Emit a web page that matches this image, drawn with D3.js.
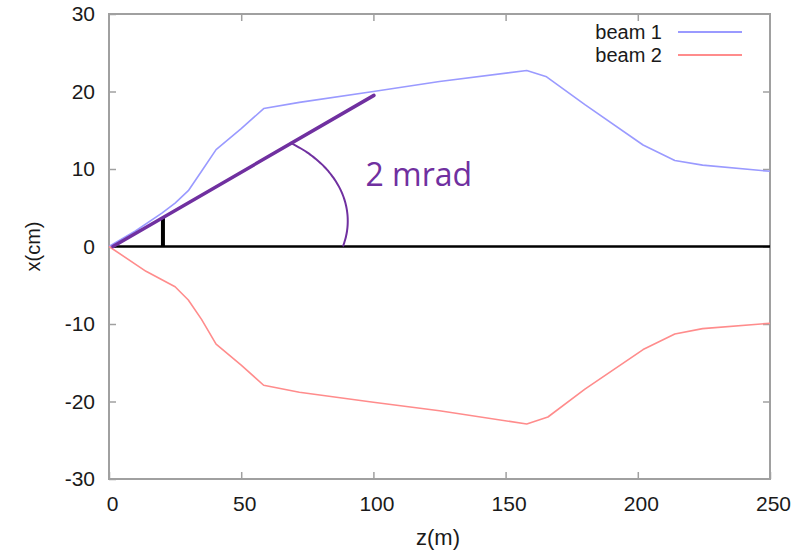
<!DOCTYPE html>
<html>
<head>
<meta charset="utf-8">
<script src="https://cdn.jsdelivr.net/npm/d3@7/dist/d3.min.js"></script>
<style>
  html, body { margin: 0; padding: 0; background: #fff; }
  svg { display: block; }
</style>
</head>
<body>
<svg id="chart" width="807" height="552"></svg>
<script>
// Beam trajectories: longitudinal position z (m) vs transverse offset x (cm)
const beam1Z = [0, 10, 20, 25, 30, 35, 40.5, 50, 58.5, 72, 100, 125, 158, 165.5, 180, 202, 214, 224.5, 250];
const beam1X = [0, 2.0, 4.3, 5.6, 7.2, 9.7, 12.5, 15.2, 17.8, 18.6, 20.0, 21.3, 22.7, 21.9, 18.3, 13.1, 11.1, 10.5, 9.7];
const beam2Z = [0, 14, 25, 30, 35, 40.5, 50, 58.5, 72, 100, 125, 158, 166, 180, 202, 214, 224.5, 250];
const beam2X = [0, -3.2, -5.2, -6.9, -9.4, -12.6, -15.3, -17.9, -18.8, -20.1, -21.2, -22.9, -22.0, -18.4, -13.3, -11.3, -10.6, -9.9];

const seriesNames = ["beam 1", "beam 2"];
const seriesColors = ["#9a9aff", "#ff8c8c"];

const zTicks = [0, 50, 100, 150, 200, 250];
const xTicks = [-30, -20, -10, 0, 10, 20, 30];

// Crossing-angle annotation (data units)
const axisLineZ = [1.5, 250];          // reference axis at x = 0
const angleLineZ = [1.5, 100.2];       // 2 mrad ray
const angleLineX = [0, 19.5];
const markerZ = 20.4;                  // short offset bar
const markerX = [0, 3.8];
const arcCenter = [43.8, 3.3];         // elliptical arc: centre (z, x)
const arcRadius = [46.5, 11.9];        // radii (m, cm)
const arcAngles = [58, -17];           // degrees, start -> end
const angleLabel = "2 mrad";
const angleLabelPos = [97, 7.8];

const svg = d3.select("#chart");
const margin = { left: 109, top: 14, right: 37, bottom: 73 };
const W = 807 - margin.left - margin.right;
const H = 552 - margin.top - margin.bottom;

const zScale = d3.scaleLinear().domain([0, 250]).range([margin.left, margin.left + W]);
const xScale = d3.scaleLinear().domain([-30, 30]).range([margin.top + H, margin.top]);

const frameColor = "#a0a0a0";
const tickFont = "'Liberation Sans', Arial, sans-serif";
const plainFormat = d => String(d);

// Axes with inward ticks on all four sides
const axisStyle = g => {
  g.select(".domain").remove();
  g.selectAll(".tick line").attr("stroke", frameColor).attr("stroke-width", 1.5);
};
svg.append("g").attr("transform", `translate(0,${margin.top + H})`)
  .call(d3.axisBottom(zScale).tickValues(zTicks).tickFormat(plainFormat).tickSize(-7).tickPadding(16))
  .call(axisStyle)
  .call(g => g.selectAll(".tick text")
    .attr("font-family", tickFont).attr("font-size", 21).attr("fill", "#1a1a1a")
    .attr("dx", 3).attr("dy", "0.75em"));
svg.append("g").attr("transform", `translate(0,${margin.top})`)
  .call(d3.axisTop(zScale).tickValues(zTicks.slice(1, -1)).tickSize(-7).tickFormat(""))
  .call(axisStyle);
svg.append("g").attr("transform", `translate(${margin.left},0)`)
  .call(d3.axisLeft(xScale).tickValues(xTicks).tickFormat(plainFormat).tickSize(-7).tickPadding(14))
  .call(axisStyle)
  .call(g => g.selectAll(".tick text")
    .attr("font-family", tickFont).attr("font-size", 21).attr("fill", "#1a1a1a"));
svg.append("g").attr("transform", `translate(${margin.left + W},0)`)
  .call(d3.axisRight(xScale).tickValues(xTicks.slice(1, -1)).tickSize(-7).tickFormat(""))
  .call(axisStyle);

// Plot frame
svg.append("rect")
  .attr("x", margin.left).attr("y", margin.top)
  .attr("width", W).attr("height", H)
  .attr("fill", "none").attr("stroke", frameColor).attr("stroke-width", 2);

// Axis titles
svg.append("text")
  .attr("transform", `translate(40,${xScale(0)}) rotate(-90)`)
  .attr("text-anchor", "middle")
  .attr("font-family", tickFont).attr("font-size", 20).attr("fill", "#1a1a1a")
  .text("x(cm)");
svg.append("text")
  .attr("x", 438).attr("y", 545)
  .attr("text-anchor", "middle")
  .attr("font-family", tickFont).attr("font-size", 22).attr("fill", "#1a1a1a")
  .text("z(m)");

// Beam lines
const line = d3.line().x(d => zScale(d[0])).y(d => xScale(d[1]));
const beams = [d3.zip(beam1Z, beam1X), d3.zip(beam2Z, beam2X)];
beams.forEach((pts, i) => {
  svg.append("path").datum(pts)
    .attr("d", line)
    .attr("fill", "none")
    .attr("stroke", seriesColors[i])
    .attr("stroke-width", 1.6)
    .attr("stroke-linejoin", "round");
});

// Legend
const legendY = [32, 55];
seriesNames.forEach((name, i) => {
  svg.append("text")
    .attr("x", 662).attr("y", legendY[i]).attr("dy", "0.35em")
    .attr("text-anchor", "end")
    .attr("font-family", tickFont).attr("font-size", 20).attr("fill", "#1a1a1a")
    .text(name);
  svg.append("line")
    .attr("x1", 678).attr("x2", 742)
    .attr("y1", legendY[i]).attr("y2", legendY[i])
    .attr("stroke", seriesColors[i]).attr("stroke-width", 2);
});

// Annotation: x = 0 reference line
svg.append("line")
  .attr("x1", zScale(axisLineZ[0])).attr("x2", zScale(axisLineZ[1]))
  .attr("y1", xScale(0)).attr("y2", xScale(0))
  .attr("stroke", "#000").attr("stroke-width", 2.5);

// Short offset marker
svg.append("line")
  .attr("x1", zScale(markerZ)).attr("x2", zScale(markerZ))
  .attr("y1", xScale(markerX[0])).attr("y2", xScale(markerX[1]))
  .attr("stroke", "#000").attr("stroke-width", 4);

// Angle ray
const purple = "#7030a0";
svg.append("line")
  .attr("x1", zScale(angleLineZ[0])).attr("x2", zScale(angleLineZ[1]))
  .attr("y1", xScale(angleLineX[0])).attr("y2", xScale(angleLineX[1]))
  .attr("stroke", purple).attr("stroke-width", 3.5).attr("stroke-linecap", "round");

// Angle arc
const arcPts = d3.range(arcAngles[0], arcAngles[1] - 0.5, -2).map(a => {
  const t = a * Math.PI / 180;
  return [arcCenter[0] + arcRadius[0] * Math.cos(t), arcCenter[1] + arcRadius[1] * Math.sin(t)];
});
svg.append("path").datum(arcPts)
  .attr("d", d3.line().curve(d3.curveCatmullRom).x(d => zScale(d[0])).y(d => xScale(d[1])))
  .attr("fill", "none").attr("stroke", purple).attr("stroke-width", 2);

svg.append("text")
  .attr("x", zScale(angleLabelPos[0])).attr("y", xScale(angleLabelPos[1]))
  .attr("font-family", "'Open Sans', Lato, sans-serif").attr("font-size", 32)
  .attr("fill", purple)
  .text(angleLabel);
</script>
</body>
</html>
